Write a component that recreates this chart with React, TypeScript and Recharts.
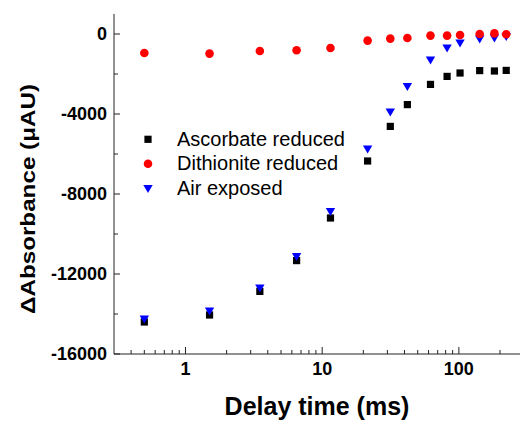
import React from "react";
import { ScatterChart, Scatter, XAxis, YAxis, Legend, Label } from "recharts";

const delayTimes = [0.5, 1.5, 3.5, 6.5, 11.5, 21.5, 31.5, 42, 62, 82, 102, 142, 182, 222];
const ascorbate = [-14400, -14050, -12870, -11330, -9200, -6350, -4620, -3530, -2520, -2120, -1950, -1830, -1850, -1820];
const dithionite = [-950, -980, -850, -815, -700, -330, -230, -200, -80, -80, -50, 0, 30, -10];
const airExposed = [-14270, -13870, -12730, -11150, -8900, -5780, -3930, -2650, -1320, -730, -480, -280, -230, -150];

const xTicks = [0.4, 0.5, 0.6, 0.7, 0.8, 0.9, 1, 2, 3, 4, 5, 6, 7, 8, 9, 10, 20, 30, 40, 50, 60, 70, 80, 90, 100, 200];
const xMajor = [1, 10, 100];
const yTicks = [-16000, -14000, -12000, -10000, -8000, -6000, -4000, -2000, 0];
const yMajor = [-16000, -12000, -8000, -4000, 0];

const seriesNames = ["Ascorbate reduced", "Dithionite reduced", "Air exposed"];

const toPoints = (ys: number[]) => delayTimes.map((x, i) => ({ x, y: ys[i] }));

const FONT = "'Liberation Sans', Arial, sans-serif";
const AXIS = "#222";

const SquareShape = (p: any) => (
  <rect x={p.cx - 3.6} y={p.cy - 3.6} width={7.2} height={7.2} fill="#000" />
);
const CircleShape = (p: any) => <circle cx={p.cx} cy={p.cy} r={4.3} fill="#ff0000" />;
const TriShape = (p: any) => (
  <polygon
    points={`${p.cx - 4.7},${p.cy - 4} ${p.cx + 4.7},${p.cy - 4} ${p.cx},${p.cy + 4}`}
    fill="#0000ff"
  />
);

const BottomTick = (props: any) => {
  const { x, y, payload } = props;
  const major = xMajor.includes(payload.value);
  return (
    <g>
      <line x1={x} y1={y} x2={x} y2={y - (major ? 7 : 4)} stroke={AXIS} strokeWidth={1} />
      {major && (
        <text x={x} y={y + 21} textAnchor="middle" fontFamily={FONT} fontWeight="bold" fontSize={18} fill="#000">
          {payload.value}
        </text>
      )}
    </g>
  );
};

const TopTick = (props: any) => {
  const { x, y, payload } = props;
  const major = xMajor.includes(payload.value);
  return <line x1={x} y1={y} x2={x} y2={y + (major ? 7 : 4)} stroke={AXIS} strokeWidth={1} />;
};

const LeftTick = (props: any) => {
  const { x, y, payload } = props;
  const major = yMajor.includes(payload.value);
  return (
    <g>
      <line x1={x} y1={y} x2={x + (major ? 6 : 4)} y2={y} stroke={AXIS} strokeWidth={1} />
      {major && (
        <text x={x - 7} y={y} dy="0.355em" textAnchor="end" fontFamily={FONT} fontWeight="bold" fontSize={18} fill="#000">
          {payload.value}
        </text>
      )}
    </g>
  );
};

const LegendContent = () => {
  const rows = [
    { name: seriesNames[0], shape: <SquareShape cx={12} cy={16.3} />, ty: 15.3 },
    { name: seriesNames[1], shape: <CircleShape cx={12} cy={40.7} />, ty: 39.7 },
    { name: seriesNames[2], shape: <TriShape cx={12} cy={66} />, ty: 64.7 },
  ];
  return (
    <svg width={240} height={80} style={{ display: "block" }}>
      {rows.map((r) => (
        <g key={r.name}>
          {r.shape}
          <text x={41} y={r.ty + 7.2} fontFamily={FONT} fontSize={20} fill="#000">
            {r.name}
          </text>
        </g>
      ))}
    </svg>
  );
};

export default function App() {
  return (
    <div style={{ position: "absolute", left: 8, top: 8, width: 512, height: 413, background: "#fff" }}>
      <ScatterChart width={512} height={413} margin={{ top: 6, right: 0, bottom: 0, left: 0 }}>
        <XAxis
          dataKey="x"
          type="number"
          scale="log"
          domain={[0.3, 280]}
          allowDataOverflow
          ticks={xTicks}
          interval={0}
          tickSize={0}
          tickMargin={0}
          tickLine={false}
          tick={<BottomTick />}
          height={67}
          axisLine={{ stroke: AXIS, strokeWidth: 1 }}
        >
          <Label
            content={(p: any) => {
              const vb = p.viewBox;
              return (
                <text
                  x={vb.x + vb.width / 2}
                  y={vb.y + 61}
                  textAnchor="middle"
                  fontFamily={FONT}
                  fontWeight="bold"
                  fontSize={25}
                  fill="#000"
                >
                  Delay time (ms)
                </text>
              );
            }}
          />
        </XAxis>
        <XAxis
          xAxisId="top"
          orientation="top"
          dataKey="x"
          type="number"
          scale="log"
          domain={[0.3, 280]}
          allowDataOverflow
          ticks={xTicks}
          interval={0}
          tickSize={0}
          tickMargin={0}
          tickLine={false}
          tick={<TopTick />}
          height={0}
          axisLine={{ stroke: AXIS, strokeWidth: 1 }}
        />
        <YAxis
          dataKey="y"
          type="number"
          domain={[-16000, 1000]}
          allowDataOverflow
          ticks={yTicks}
          interval={0}
          tickSize={0}
          tickMargin={0}
          tickLine={false}
          tick={<LeftTick />}
          width={106}
          axisLine={{ stroke: AXIS, strokeWidth: 1 }}
        >
          <Label
            content={(p: any) => {
              const vb = p.viewBox;
              const cx = 27;
              const cy = vb.y + vb.height / 2 + 15;
              return (
                <text
                  x={cx}
                  y={cy}
                  transform={`rotate(-90 ${cx} ${cy})`}
                  textAnchor="middle"
                  fontFamily={FONT}
                  fontWeight="bold"
                  fontSize={20}
                  textLength={230}
                  lengthAdjust="spacingAndGlyphs"
                  fill="#000"
                >
                  ΔAbsorbance (μAU)
                </text>
              );
            }}
          />
        </YAxis>
        <Legend
          layout="vertical"
          align="center"
          verticalAlign="middle"
          content={<LegendContent />}
          wrapperStyle={{ left: 128, top: 115, width: 240, height: 80 }}
        />
        <Scatter name={seriesNames[0]} data={toPoints(ascorbate)} shape={SquareShape} isAnimationActive={false} />
        <Scatter name={seriesNames[2]} data={toPoints(airExposed)} shape={TriShape} isAnimationActive={false} />
        <Scatter name={seriesNames[1]} data={toPoints(dithionite)} shape={CircleShape} isAnimationActive={false} />
      </ScatterChart>
    </div>
  );
}
